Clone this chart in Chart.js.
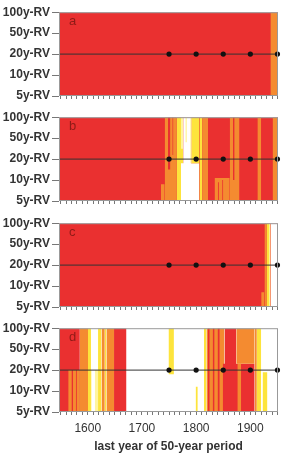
<!DOCTYPE html>
<html>
<head>
<meta charset="utf-8">
<script src="https://cdn.jsdelivr.net/npm/chart.js@4.4.1/dist/chart.umd.min.js"></script>
<style>
  html, body { margin: 0; padding: 0; background: #fff; }
  body { width: 284px; height: 459px; position: relative; overflow: hidden; }
  .panel { position: absolute; left: 0; width: 284px; }
</style>
</head>
<body>
<div class="panel" style="top:3px"><canvas id="panelA" width="284" height="105"></canvas></div>
<div class="panel" style="top:108px"><canvas id="panelB" width="284" height="105"></canvas></div>
<div class="panel" style="top:213.5px"><canvas id="panelC" width="284" height="105"></canvas></div>
<div class="panel" style="top:318.5px"><canvas id="panelD" width="284" height="141"></canvas></div>
<script>
// return value levels, bottom to top (index = level on the y scale)
const rvLabels = ['5y-RV', '10y-RV', '20y-RV', '50y-RV', '100y-RV'];
const yearRange = [1547, 1951];
const centuryTicks = [1600, 1700, 1800, 1900];
const markerYears = [1750, 1800, 1850, 1900, 1950];
const markerLevel = 2; // 20y-RV

// stripes: [from year, to year, class, low level, high level]
// later stripes sit on top of earlier ones
const stripesA = [
  [1547, 1951, 'r', 0, 4],
  [1937, 1951, 'o', 0, 4],
];

const stripesB = [
  [1547, 1951, 'r', 0, 4],
  [1735, 1742, 'o', 0, 0.8],
  [1742, 1763.5, 'o', 0, 4],
  [1748, 1752.5, 'r', 1.5, 4],
  [1756, 1758, 'r', 2.2, 4],
  [1763.5, 1776, 'y', 0, 4],
  [1772, 1776, 'p', 2.5, 4],
  [1772, 1806, 'w', 0, 1.8],
  [1776, 1791, 'w', 0, 4],
  [1780, 1783, 'p', 2.8, 4],
  [1791, 1806, 'y', 1.8, 4],
  [1789, 1792, 'p', 1.8, 4],
  [1806, 1812, 'y', 0, 4],
  [1812, 1822, 'o', 0, 4],
  [1834, 1862, 'o', 0, 1.1],
  [1840, 1842, 'r', 0, 0.9],
  [1848, 1850, 'r', 0, 1.0],
  [1862, 1880, 'o', 0, 4],
  [1868, 1871, 'r', 1, 4],
  [1913, 1920, 'o', 0, 4],
  [1941, 1951, 'o', 0, 4],
];

const stripesC = [
  [1547, 1951, 'r', 0, 4],
  [1920, 1926, 'o', 0, 0.7],
  [1926, 1929.5, 'o', 0, 4],
  [1929.5, 1936.5, 'y', 0, 4],
  [1934.5, 1937.5, 'p', 0, 4],
  [1937.5, 1951, 'w', 0, 4],
];

const stripesD = [
  [1547, 1951, 'w', 0, 4],
  [1547, 1585.5, 'r', 0, 4],
  [1564, 1585.5, 'o', 0, 2],
  [1570, 1573, 'r', 0, 2],
  [1578, 1580, 'r', 0, 2],
  [1585.5, 1600.5, 'o', 0, 4],
  [1600.5, 1606, 'y', 0, 4],
  [1605, 1607, 'y', 0, 2],
  [1613, 1619, 'p', 0, 2],
  [1619, 1625.5, 'y', 0, 4],
  [1625.5, 1631.5, 'o', 0, 4],
  [1631.5, 1634.5, 'y', 0, 4],
  [1634.5, 1648.5, 'o', 0, 4],
  [1648.5, 1671.5, 'r', 0, 4],
  [1749, 1759, 'y', 1.8, 4],
  [1799, 1803, 'y', 0, 1.2],
  [1814.5, 1819, 'y', 0, 4],
  [1819, 1852.5, 'o', 0, 4],
  [1821.5, 1825, 'r', 0, 4],
  [1830.5, 1834, 'r', 0, 4],
  [1839.5, 1843.5, 'r', 0, 4],
  [1852.5, 1874, 'r', 0, 4],
  [1849, 1908, 'r', 0, 2.3],
  [1874, 1908, 'o', 2.3, 4],
  [1876, 1883, 'o', 0, 2.3],
  [1908, 1912, 'o', 0, 4],
  [1912, 1920, 'y', 0, 4],
  [1922.5, 1931.5, 'y', 0, 1.9],
];

const classColors = {
  r: '#EA3030',
  o: '#F48B30',
  y: '#FDE43C',
  p: '#FFF4A0',
  w: '#FFFFFF',
};

const textColor = '#333';
const axisGray = '#777';

const frame = {
  id: 'frame',
  afterDatasetsDraw(chart) {
    const { ctx, chartArea: a } = chart;
    ctx.save();
    ctx.strokeStyle = '#999';
    ctx.lineWidth = 1;
    ctx.strokeRect(a.left + 0.5, a.top + 0.5, a.right - a.left - 1, a.bottom - a.top - 1);
    ctx.restore();
  },
  afterDraw(chart, args, opts) {
    if (!opts.text) return;
    const { ctx, chartArea: a } = chart;
    ctx.save();
    ctx.font = '13px "Liberation Sans", Arial, sans-serif';
    ctx.fillStyle = '#8E1B17';
    ctx.textAlign = 'left';
    ctx.textBaseline = 'middle';
    ctx.fillText(opts.text, a.left + 10, a.top + 9);
    ctx.restore();
  }
};

function makePanel(id, stripes, tag, showYears) {
  const datasets = stripes.map((s, i) => ({
    type: 'line',
    data: [{ x: s[0], y: s[4] }, { x: s[1], y: s[4] }],
    fill: { value: s[3] },
    backgroundColor: classColors[s[2]],
    borderColor: 'transparent',
    borderWidth: 0,
    pointRadius: 0,
    tension: 0,
    order: -i,
  }));
  // 20y-RV reference line
  datasets.push({
    type: 'line',
    data: [{ x: yearRange[0], y: markerLevel }, { x: yearRange[1], y: markerLevel }],
    borderColor: '#333',
    borderWidth: 1,
    pointRadius: 0,
    fill: false,
    order: -1000,
  });
  datasets.push({
    type: 'scatter',
    data: markerYears.map(yr => ({ x: yr, y: markerLevel })),
    backgroundColor: '#111',
    borderColor: '#111',
    pointRadius: 2.6,
    borderWidth: 0,
    clip: false,
    order: -1001,
  });

  const plotH = 87;
  const canvasH = document.getElementById(id).height;

  return new Chart(document.getElementById(id), {
    type: 'line',
    data: { datasets },
    options: {
      responsive: false,
      animation: false,
      layout: { padding: { top: 6, right: 6, left: 0, bottom: 0 } },
      plugins: {
        legend: { display: false },
        tooltip: { enabled: false },
        frame: { text: tag },
      },
      scales: {
        x: {
          type: 'linear',
          min: yearRange[0],
          max: yearRange[1],
          border: { display: false },
          grid: { display: true, drawOnChartArea: false, tickLength: 3, tickColor: axisGray },
          ticks: {
            stepSize: 10,
            includeBounds: false,
            autoSkip: false,
            maxRotation: 0,
            padding: 6,
            color: textColor,
            font: { family: '"Liberation Sans", Arial, sans-serif', size: 12 },
            callback: v => (showYears && centuryTicks.includes(v)) ? String(v) : '',
          },
          title: {
            display: showYears,
            text: 'last year of 50-year period',
            color: textColor,
            font: { family: '"Liberation Sans", Arial, sans-serif', size: 12, weight: 'bold' },
            padding: { top: 2, bottom: 6 },
          },
          afterFit: s => { s.height = canvasH - 6 - plotH; },
        },
        y: {
          type: 'linear',
          min: 0,
          max: rvLabels.length - 1,
          border: { display: false },
          grid: { display: true, drawOnChartArea: false, tickLength: 7, tickColor: axisGray },
          ticks: {
            stepSize: 1,
            padding: 2,
            color: textColor,
            font: { family: '"Liberation Sans", Arial, sans-serif', size: 12, weight: 'bold' },
            callback: v => rvLabels[v] ?? '',
          },
          afterFit: s => { s.width = 59; },
        },
      },
    },
    plugins: [frame],
  });
}

makePanel('panelA', stripesA, 'a', false);
makePanel('panelB', stripesB, 'b', false);
makePanel('panelC', stripesC, 'c', false);
makePanel('panelD', stripesD, 'd', true);
</script>
</body>
</html>
